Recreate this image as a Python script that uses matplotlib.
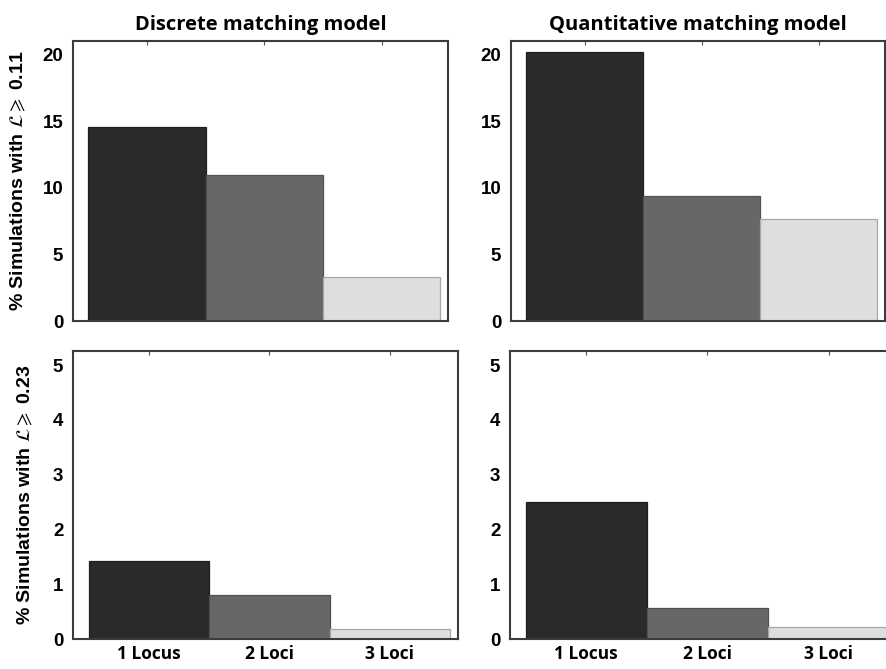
import matplotlib
matplotlib.use("Agg")
import matplotlib.pyplot as plt

# percentage of simulations above the L threshold, per number of loci
categories = ["1 Locus", "2 Loci", "3 Loci"]
discrete_011 = [14.6, 10.95, 3.3]
quantitative_011 = [20.2, 9.4, 7.65]
discrete_023 = [1.43, 0.80, 0.18]
quantitative_023 = [2.5, 0.57, 0.22]

titles = ["Discrete matching model", "Quantitative matching model"]
ylabels = [r"% Simulations with $\mathcal{L}\geqslant$ 0.11",
           r"% Simulations with $\mathcal{L}\geqslant$ 0.23"]
yticks_top = [0, 5, 10, 15, 20]
yticks_bottom = [0, 1, 2, 3, 4, 5]

bar_colors = ["#2b2a2b", "#676768", "#dddee0"]
edge_colors = ["#1e1e1e", "#505050", "#a8a8a8"]

plt.rcParams["mathtext.fontset"] = "stix"

TICK_FONT = dict(family="Liberation Sans", weight="bold", size=13.5)
CAL_FONT = dict(family="Open Sans", weight="bold")

fig = plt.figure(figsize=(8.87, 6.69), dpi=100)

W, H = 887.0, 669.0


def make_axes(x0, x1, y0, y1):
    return fig.add_axes([x0 / W, 1 - y1 / H, (x1 - x0) / W, (y1 - y0) / H])


panels = [
    (make_axes(73, 448, 41, 321), discrete_011, (0, 21.05), yticks_top, 0, 0),
    (make_axes(511, 885, 41, 321), quantitative_011, (0, 21.05), yticks_top, 0, 1),
    (make_axes(73, 458, 351, 639), discrete_023, (0, 5.26), yticks_bottom, 1, 0),
    (make_axes(510, 897, 351, 639), quantitative_023, (0, 5.26), yticks_bottom, 1, 1),
]

x = [1, 2, 3]
for ax, vals, ylim, yt, row, col in panels:
    ax.bar(x, vals, width=1.0, color=bar_colors, edgecolor=edge_colors,
           linewidth=0.9, zorder=2)
    ax.set_xlim(0.37, 3.565)
    ax.set_ylim(*ylim)
    ax.set_yticks(yt)
    ax.set_yticklabels([str(v) for v in yt], **TICK_FONT)
    ax.set_xticks(x)
    ax.tick_params(axis="y", length=0, pad=7)
    ax.tick_params(axis="x", direction="in", length=3, width=0.8,
                   color="#555555", top=True, bottom=True)
    for sp in ax.spines.values():
        sp.set_color("#3c3c3c")
        sp.set_linewidth(1.5)
        sp.set_zorder(3)
    if row == 0:
        ax.set_xticklabels([])
        ax.set_title(titles[col], fontsize=14.5, pad=8, **CAL_FONT)
    else:
        ax.set_xticklabels(categories, fontsize=12.5, **CAL_FONT)
        ax.tick_params(axis="x", pad=4)
    if col == 0:
        ax.set_ylabel(ylabels[row], family="Liberation Sans", weight="bold",
                      fontsize=14)
        ax.yaxis.set_label_coords(-0.12 if row == 0 else -0.099, 0.5)

fig.savefig("out.png", dpi=100)
